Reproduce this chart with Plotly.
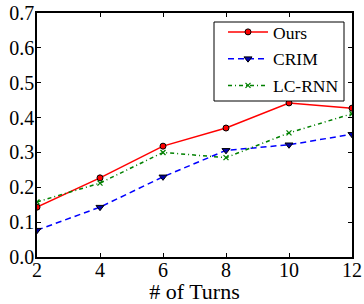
import plotly.graph_objects as go

turns = [2, 4, 6, 8, 10, 12]
ours = [0.143, 0.227, 0.318, 0.370, 0.442, 0.427]
crim = [0.077, 0.143, 0.230, 0.306, 0.322, 0.352]
lcrnn = [0.158, 0.212, 0.300, 0.285, 0.356, 0.411]

y_ticks = [0.0, 0.1, 0.2, 0.3, 0.4, 0.5, 0.6, 0.7]
x_ticks = [2, 4, 6, 8, 10, 12]

fig = go.Figure()
fig.add_trace(go.Scatter(x=turns, y=ours, name="Ours", mode="lines+markers",
                         legendgroup="a",
                         line=dict(color="#ff0000", width=1.5),
                         marker=dict(symbol="circle", size=6, color="#ff0000",
                                     line=dict(color="black", width=1))))
fig.add_trace(go.Scatter(x=turns, y=crim, name="CRIM", mode="lines+markers",
                         legendgroup="b",
                         line=dict(color="#0000ff", width=1.5, dash="6px,4px"),
                         marker=dict(symbol="triangle-down", size=7, color="#0000aa",
                                     line=dict(color="black", width=1))))
fig.add_trace(go.Scatter(x=turns, y=lcrnn, name="LC-RNN", mode="lines+markers",
                         legendgroup="c",
                         line=dict(color="#008000", width=1.5, dash="4px,3px,1px,3px"),
                         marker=dict(symbol="x-thin", size=5, color="#008000",
                                     line=dict(color="#008000", width=1.3))))

font = dict(family="Liberation Serif, Times New Roman, serif", color="black")

fig.add_shape(type="rect", xref="paper", yref="paper",
              x0=(214 - 37) / 315, x1=(344 - 37) / 315,
              y0=(257 - 101) / 244, y1=(257 - 22) / 244,
              line=dict(color="black", width=1), fillcolor="white", layer="above")

fig.update_layout(
    width=364, height=304,
    margin=dict(l=37, r=12, t=13, b=47, pad=0),
    plot_bgcolor="white", paper_bgcolor="white",
    font=dict(size=20, **font),
    showlegend=True,
    legend=dict(x=(223 - 37) / 315, y=(257 - 14) / 244, xanchor="left", yanchor="top",
                bgcolor="rgba(0,0,0,0)", borderwidth=0,
                font=dict(size=17.5, **font), tracegroupgap=1,
                traceorder="grouped", itemwidth=40),
    xaxis=dict(range=[2, 12], tickmode="array", tickvals=x_ticks,
               ticktext=[str(v) for v in x_ticks], automargin=False,
               ticks="inside", ticklen=4, tickcolor="black",
               ticklabelstandoff=-6,
               showline=True, linecolor="black", linewidth=1.5, mirror="ticks",
               showgrid=False, zeroline=False,
               title=dict(text="# of Turns", standoff=2, font=dict(size=22, **font)),
               tickfont=dict(size=20, **font)),
    yaxis=dict(range=[0, 0.7], tickmode="array", tickvals=y_ticks,
               ticktext=[f"{v:.1f}" for v in y_ticks], automargin=False,
               ticks="inside", ticklen=4, tickcolor="black",
               ticklabelstandoff=-3,
               showline=True, linecolor="black", linewidth=1.5, mirror="ticks",
               showgrid=False, zeroline=False,
               tickfont=dict(size=20, **font)),
)

fig.write_html("out.html", config={"displayModeBar": False},
               post_script="document.body.style.margin='0';")
